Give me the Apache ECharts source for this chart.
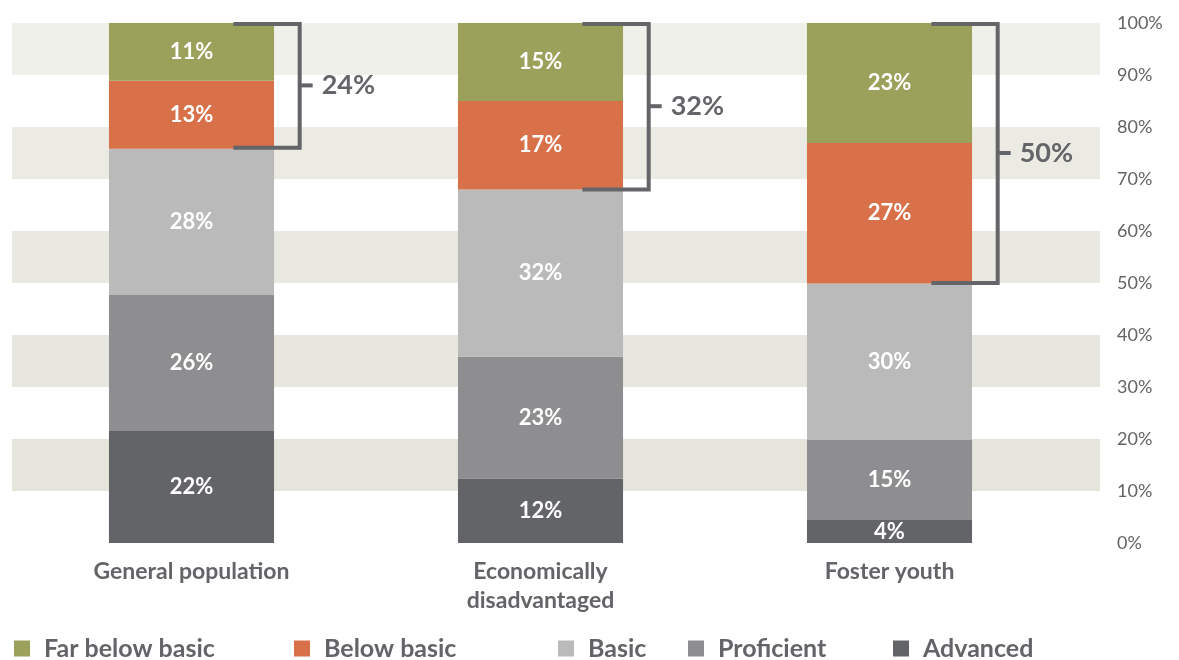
<!DOCTYPE html>
<html>
<head>
<meta charset="utf-8">
<script src="https://cdn.jsdelivr.net/npm/echarts@6/dist/echarts.min.js"></script>
<style>html,body{margin:0;padding:0;background:#fff;}#c{width:1179px;height:660px;}</style>
</head>
<body>
<div id="c"></div>
<script>
const categories = ['General population', 'Economically\ndisadvantaged', 'Foster youth'];
const advanced = [21.7, 12.4, 4.4];
const proficient = [26.0, 23.4, 15.4];
const basic = [28.1, 32.2, 30.1];
const belowBasic = [13.1, 17.0, 27.0];
const farBelowBasic = [11.1, 15.0, 23.1];
const bracketTotals = [24, 32, 50];
const yTicks = [0, 10, 20, 30, 40, 50, 60, 70, 80, 90, 100];

const FONT = 'Lato';
const TXT = '#636467';
const colors = {
  'Advanced': '#636467',
  'Proficient': '#8e8e90',
  'Basic': '#bababa',
  'Below basic': '#d8714a',
  'Far below basic': '#9ba05a'
};

function barSeries(name, data) {
  return {
    name: name, type: 'bar', stack: 'total', xAxisIndex: 1, yAxisIndex: 1,
    barWidth: '47.3%', data: data,
    itemStyle: { color: colors[name] },
    label: {
      show: true, position: 'inside', color: '#fff', fontFamily: FONT,
      fontWeight: 'bold', fontSize: 22,
      formatter: p => Math.round(p.value) + '%'
    }
  };
}

// bracket data: [categoryIndex, low, high, total]
const bracketData = categories.map((c, i) => [i, 100 - bracketTotals[i], 100, bracketTotals[i]]);

const legendNames = ['Far below basic', 'Below basic', 'Basic', 'Proficient', 'Advanced'];
const legendLeft = [14, 294, 558, 688, 893];

const option = {
  animation: false,
  backgroundColor: '#fff',
  grid: [
    { left: 12, right: 79, top: 23, bottom: 117 },
    { left: 17, right: 115, top: 23, bottom: 117 }
  ],
  legend: legendNames.map((n, i) => ({
    data: [n], left: legendLeft[i], top: 636, itemWidth: 16, itemHeight: 16, icon: 'rect',
    selectedMode: false, padding: 0,
    textStyle: { fontFamily: FONT, fontSize: 25, fontWeight: 'bold', color: TXT, padding: [0, 0, 0, 9] }
  })),
  xAxis: [
    { gridIndex: 0, type: 'value', min: 0, max: 1, show: false },
    {
      gridIndex: 1, type: 'category', data: categories,
      axisLine: { show: false }, axisTick: { show: false },
      axisLabel: { fontFamily: FONT, fontSize: 23, fontWeight: 'bold', color: TXT, margin: 14, lineHeight: 29 }
    }
  ],
  yAxis: [
    {
      gridIndex: 0, type: 'value', position: 'right', min: 0, max: 100, interval: 10,
      axisLine: { show: false }, axisTick: { show: false },
      splitLine: { show: false },
      splitArea: { show: true, areaStyle: { color: ['rgba(0,0,0,0)', '#e5e5dc', 'rgba(0,0,0,0)', '#e7e7df', 'rgba(0,0,0,0)', '#e9e9e2', 'rgba(0,0,0,0)', '#ebebe4', 'rgba(0,0,0,0)', '#eff0ea'] } },
      axisLabel: {
        fontFamily: FONT, fontSize: 18, color: TXT, margin: 17,
        formatter: v => (yTicks.indexOf(v) >= 0 ? v + '%' : '')
      }
    },
    { gridIndex: 1, type: 'value', min: 0, max: 100, show: false }
  ],
  series: [
    barSeries('Advanced', advanced),
    barSeries('Proficient', proficient),
    barSeries('Basic', basic),
    barSeries('Below basic', belowBasic),
    barSeries('Far below basic', farBelowBasic),
    {
      type: 'custom', xAxisIndex: 1, yAxisIndex: 1, z: 10,
      data: bracketData,
      encode: { x: 0, y: [1, 2] },
      renderItem: function (params, api) {
        const cat = api.value(0);
        const lo = api.value(1), hi = api.value(2), tot = api.value(3);
        const top = api.coord([cat, hi]);
        const bot = api.coord([cat, lo]);
        const bw = api.size([1, 0])[0];
        const xV = top[0] + bw * 0.31;
        const xS = top[0] + bw * 0.12;
        const midY = (top[1] + bot[1]) / 2;
        const lineStyle = { stroke: '#646568', lineWidth: 4, fill: null };
        return {
          type: 'group',
          children: [
            { type: 'polyline', shape: { points: [[xS, top[1] + 1], [xV, top[1] + 1], [xV, bot[1]], [xS, bot[1]]] }, style: lineStyle },
            { type: 'line', shape: { x1: xV, y1: midY, x2: xV + 13, y2: midY }, style: lineStyle },
            { type: 'text', style: { text: tot + '%', x: xV + 22, y: midY, fill: '#646568', fontFamily: FONT, fontWeight: 'bold', fontSize: 27, align: 'left', verticalAlign: 'middle' } }
          ]
        };
      }
    }
  ]
};

const chart = echarts.init(document.getElementById('c'));
chart.setOption(option);
</script>
</body>
</html>
